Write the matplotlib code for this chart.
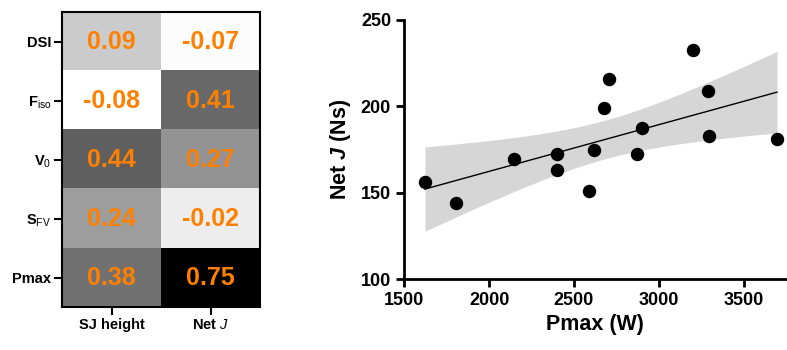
import numpy as np
import matplotlib
matplotlib.use('Agg')
import matplotlib.pyplot as plt

plt.rcParams['font.family'] = 'Liberation Sans'
plt.rcParams['mathtext.fontset'] = 'custom'
plt.rcParams['mathtext.rm'] = 'Liberation Sans'
plt.rcParams['mathtext.it'] = 'Liberation Sans:italic'
plt.rcParams['mathtext.bf'] = 'Liberation Sans:bold'
plt.rcParams['mathtext.bfit'] = 'Liberation Sans:italic:bold'

# heatmap data
row_labels = ['DSI', r'F$_{\mathrm{iso}}$', r'V$_{\mathrm{0}}$', r'S$_{\mathrm{FV}}$', 'Pmax']
col_labels = ['SJ height', r'Net $\mathit{J}$']
corr = np.array([
    [0.09, -0.07],
    [-0.08, 0.41],
    [0.44, 0.27],
    [0.24, -0.02],
    [0.38, 0.75],
])

# scatter data
pmax = np.array([1622, 1803, 2147, 2403, 2399, 2586, 2621, 2678, 2706,
                 2869, 2902, 3201, 3288, 3299, 3697])
net_j = np.array([156.1, 144.4, 169.4, 172.7, 163.2, 151.1, 174.8, 198.9, 215.9,
                  172.7, 187.3, 232.5, 208.9, 183.1, 181.2])

fig = plt.figure(figsize=(7.87, 3.5), dpi=100)

# --- heatmap ---
ax1 = fig.add_axes([0.0792, 0.122, 0.2512, 0.843])
ax1.imshow(corr, cmap='gray_r', vmin=-0.08, vmax=0.75, aspect='auto')
for i in range(corr.shape[0]):
    for j in range(corr.shape[1]):
        ax1.text(j, i, f'{corr[i, j]:.2f}', ha='center', va='center',
                 color='#ff8000', fontsize=18, fontweight='bold')
ax1.set_xticks(range(len(col_labels)))
ax1.set_xticklabels(col_labels, fontsize=10.5, fontweight='bold')
ax1.set_yticks(range(len(row_labels)))
ax1.set_yticklabels(row_labels, fontsize=10.5, fontweight='bold')
ax1.tick_params(direction='out', length=6, width=1.5, color='black', pad=2)
for s in ax1.spines.values():
    s.set_linewidth(1.5)

# --- scatter with regression ---
ax2 = fig.add_axes([0.5137, 0.202, 0.485, 0.741])
slope, intercept = np.polyfit(pmax, net_j, 1)
xs = np.linspace(pmax.min(), pmax.max(), 200)
ys = slope * xs + intercept
n = len(pmax)
resid = net_j - (slope * pmax + intercept)
s_err = np.sqrt(np.sum(resid ** 2) / (n - 2))
t_val = 2.160  # t(0.975, df=13)
ci = t_val * s_err * np.sqrt(1 / n + (xs - pmax.mean()) ** 2 / np.sum((pmax - pmax.mean()) ** 2))
ax2.fill_between(xs, ys - ci, ys + ci, color='#d6d6d6', lw=0, zorder=1)
ax2.plot(xs, ys, color='black', lw=1, zorder=2)
ax2.scatter(pmax, net_j, s=75, color='black', zorder=3, clip_on=False)

ax2.set_xlim(1500, 3750)
ax2.set_ylim(100, 250)
ax2.set_xticks([1500, 2000, 2500, 3000, 3500])
ax2.set_yticks([100, 150, 200, 250])
ax2.spines['top'].set_visible(False)
ax2.spines['right'].set_visible(False)
ax2.spines['left'].set_linewidth(2)
ax2.spines['bottom'].set_linewidth(2)
ax2.tick_params(direction='out', length=6, width=2, labelsize=13)
for lab in ax2.get_xticklabels() + ax2.get_yticklabels():
    lab.set_fontweight('bold')
ax2.set_xlabel('Pmax (W)', fontsize=15.5, fontweight='bold', labelpad=3)
ax2.set_ylabel(r'Net $\mathbfit{J}$ (Ns)', fontsize=15.5, fontweight='bold', labelpad=6)

fig.savefig('out.png', dpi=100)
